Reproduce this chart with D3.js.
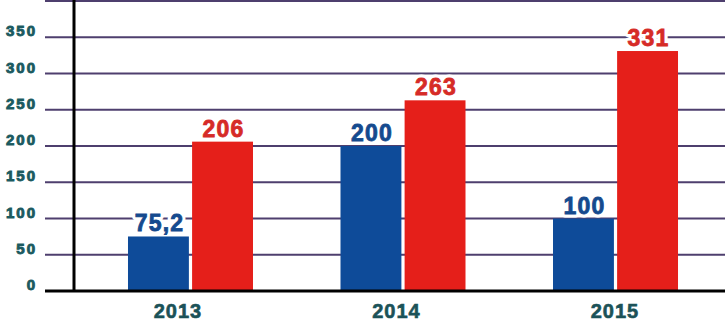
<!DOCTYPE html>
<html><head><meta charset="utf-8">
<script src="https://cdn.jsdelivr.net/npm/d3@7"></script>
<style>html,body{margin:0;padding:0;background:#fff;overflow:hidden}</style>
</head><body>
<svg id="c" width="725" height="321"></svg>
<script>
const years = ["2013", "2014", "2015"];
const seriesBlue = [75.2, 200, 100];
const seriesRed = [206, 263, 331];
const blueLabels = ["75,2", "200", "100"];
const redLabels = ["206", "263", "331"];
const tickValues = [0, 50, 100, 150, 200, 250, 300, 350];
const gridValues = [50, 100, 150, 200, 250, 300, 350, 400];

const svg = d3.select("#c");
const y = d3.scaleLinear().domain([0, 400]).range([291, 1]);
const x0 = d3.scaleBand().domain(years).range([84, 722]).paddingInner(0.4118).paddingOuter(0.207);
const x1 = d3.scaleBand().domain(["blue", "red"]).range([0, x0.bandwidth()]).paddingInner(0.05);
const xLab = d3.scalePoint().domain(years).range([178, 615]);

// gridlines
svg.append("g").selectAll("line").data(gridValues).join("line")
  .attr("x1", 45).attr("x2", 725)
  .attr("y1", d => y(d)).attr("y2", d => y(d))
  .attr("stroke", "#4e3f6e").attr("stroke-width", 2);

// y tick labels
svg.append("g").selectAll("text").data(tickValues).join("text")
  .attr("x", 37).attr("y", d => y(d) - 1)
  .attr("text-anchor", "end")
  .attr("font-family", "Liberation Sans, Arial, sans-serif")
  .attr("font-weight", "bold").attr("font-size", 15)
  .attr("letter-spacing", 2)
  .attr("fill", "#1b5a60").attr("stroke", "#1b5a60").attr("stroke-width", 0.9)
  .text(d => d);

const data = years.map((yr, i) => ({year: yr, blue: seriesBlue[i], red: seriesRed[i], bl: blueLabels[i], rl: redLabels[i]}));
const colors = {blue: "#0e4b99", red: "#e51f1a"};
const tcolors = {blue: "#154a8e", red: "#d62b27"};

const labData = d => [{k: "blue", v: d.blue, t: d.bl}, {k: "red", v: d.red, t: d.rl}];
function styleLab(sel) {
  return sel.attr("x", d => x1(d.k) + x1.bandwidth() / 2 + 1)
    .attr("y", d => y(d.v) - 5)
    .attr("text-anchor", "middle")
    .attr("font-family", "Liberation Sans, Arial, sans-serif")
    .attr("font-weight", "bold").attr("font-size", 23)
    .attr("letter-spacing", 1.2)
    .text(d => d.t);
}

// white halo breaking gridlines behind labels (drawn beneath bars)
svg.append("g").selectAll("g").data(data).join("g")
  .attr("transform", d => `translate(${x0(d.year)},0)`)
  .selectAll("text").data(labData).join("text")
  .call(styleLab)
  .attr("fill", "#fff").attr("stroke", "#fff").attr("stroke-width", 7).attr("stroke-linejoin", "round");

const g = svg.append("g").selectAll("g").data(data).join("g")
  .attr("transform", d => `translate(${x0(d.year)},0)`);

g.selectAll("rect").data(d => ["blue", "red"].map(k => ({k, v: d[k]}))).join("rect")
  .attr("x", d => x1(d.k)).attr("width", x1.bandwidth())
  .attr("y", d => y(d.v)).attr("height", d => y(0) - y(d.v))
  .attr("fill", d => colors[d.k]);

g.selectAll("text").data(labData).join("text")
  .call(styleLab)
  .attr("fill", d => tcolors[d.k]).attr("stroke", d => tcolors[d.k]).attr("stroke-width", 0.8);

// vertical axis
svg.append("line").attr("x1", 74).attr("x2", 74).attr("y1", 0).attr("y2", 292)
  .attr("stroke", "#000").attr("stroke-width", 3);
// baseline
svg.append("line").attr("x1", 45).attr("x2", 725).attr("y1", y(0)).attr("y2", y(0))
  .attr("stroke", "#000").attr("stroke-width", 3);

// x labels
svg.append("g").selectAll("text").data(years).join("text")
  .attr("x", d => xLab(d)).attr("y", 318)
  .attr("text-anchor", "middle")
  .attr("font-family", "Liberation Sans, Arial, sans-serif")
  .attr("font-weight", "bold").attr("font-size", 20)
  .attr("letter-spacing", 1)
  .attr("fill", "#1b5258").attr("stroke", "#1b5258").attr("stroke-width", 0.6)
  .text(d => d);
</script>
</body></html>
